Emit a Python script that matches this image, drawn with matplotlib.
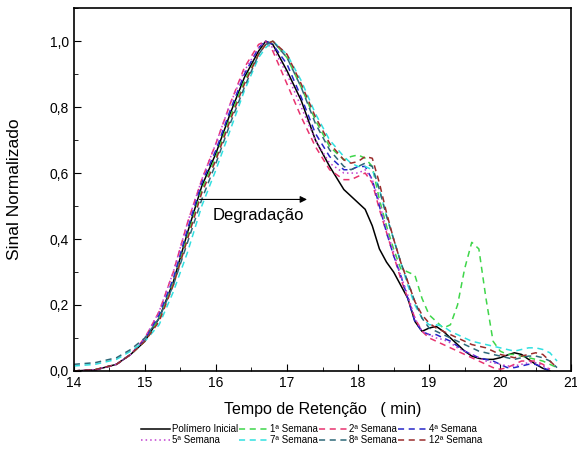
import numpy as np
import matplotlib
matplotlib.use('Agg')
import matplotlib.pyplot as plt
from matplotlib.ticker import MultipleLocator, FuncFormatter

plt.rcParams['font.family'] = ['Liberation Sans', 'DejaVu Sans']

tempo = [14.0, 14.3, 14.6, 14.8, 15.0, 15.2, 15.4, 15.6, 15.8, 16.0,
         16.2, 16.4, 16.6, 16.7, 16.8, 17.0, 17.2, 17.4, 17.6, 17.8,
         17.9, 18.0, 18.1, 18.2, 18.3, 18.4, 18.5, 18.6, 18.7, 18.8,
         18.9, 19.0, 19.1, 19.2, 19.3, 19.4, 19.5, 19.6, 19.7, 19.8,
         19.9, 20.0, 20.1, 20.2, 20.3, 20.4, 20.5, 20.6, 20.7, 20.8]

inicial = [0.0, 0.003, 0.02, 0.05, 0.09, 0.16, 0.27, 0.42, 0.56, 0.66,
           0.78, 0.89, 0.97, 1.0, 0.99, 0.91, 0.82, 0.70, 0.62, 0.55,
           0.53, 0.51, 0.49, 0.44, 0.37, 0.33, 0.30, 0.26, 0.22, 0.15,
           0.12, 0.13, 0.135, 0.12, 0.10, 0.08, 0.06, 0.045, 0.038, 0.035,
           0.035, 0.04, 0.048, 0.055, 0.05, 0.035, 0.02, 0.008, 0.0, np.nan]

sem1 = [0.0, 0.004, 0.02, 0.05, 0.09, 0.16, 0.27, 0.41, 0.55, 0.65,
        0.77, 0.88, 0.96, 0.99, 1.0, 0.95, 0.86, 0.76, 0.68, 0.64,
        0.65, 0.655, 0.645, 0.62, 0.52, 0.44, 0.37, 0.31, 0.30, 0.29,
        0.22, 0.17, 0.15, 0.13, 0.14, 0.20, 0.31, 0.39, 0.37, 0.22,
        0.09, 0.06, 0.05, 0.05, 0.045, 0.04, 0.035, 0.03, 0.02, 0.01]

sem2 = [0.0, 0.003, 0.02, 0.05, 0.10, 0.18, 0.30, 0.45, 0.58, 0.69,
        0.81, 0.92, 0.99, 1.0, 0.97, 0.87, 0.77, 0.68, 0.61, 0.58,
        0.58, 0.59, 0.60, 0.57, 0.49, 0.42, 0.35, 0.28, 0.22, 0.16,
        0.12, 0.10, 0.09, 0.08, 0.07, 0.06, 0.05, 0.04, 0.03, 0.02,
        0.01, 0.005, 0.01, 0.02, 0.03, 0.03, 0.03, 0.02, 0.005, np.nan]

sem4 = [0.0, 0.003, 0.02, 0.05, 0.095, 0.17, 0.28, 0.43, 0.57, 0.67,
        0.79, 0.90, 0.98, 1.0, 0.99, 0.93, 0.83, 0.72, 0.65, 0.61,
        0.61, 0.62, 0.62, 0.58, 0.50, 0.42, 0.35, 0.29, 0.22, 0.15,
        0.12, 0.11, 0.11, 0.10, 0.09, 0.075, 0.06, 0.05, 0.04, 0.035,
        0.03, 0.02, 0.01, 0.01, 0.015, 0.02, 0.02, 0.01, 0.0, np.nan]

sem5 = [0.0, 0.004, 0.02, 0.05, 0.10, 0.18, 0.30, 0.45, 0.58, 0.69,
        0.81, 0.91, 0.98, 1.0, 0.98, 0.90, 0.80, 0.70, 0.63, 0.60,
        0.60, 0.60, 0.61, 0.58, 0.51, 0.43, 0.36, 0.29, 0.23, 0.16,
        0.12, 0.11, 0.10, 0.095, 0.085, 0.07, 0.06, 0.05, 0.04, 0.03,
        0.025, 0.02, 0.015, 0.015, 0.02, 0.025, 0.025, 0.015, 0.005, np.nan]

sem7 = [0.015, 0.02, 0.035, 0.06, 0.09, 0.14, 0.24, 0.36, 0.50, 0.61,
        0.73, 0.85, 0.95, 0.98, 1.0, 0.96, 0.88, 0.78, 0.70, 0.65,
        0.63, 0.62, 0.62, 0.61, 0.55, 0.47, 0.40, 0.33, 0.26, 0.20,
        0.16, 0.14, 0.14, 0.135, 0.12, 0.11, 0.10, 0.09, 0.085, 0.08,
        0.075, 0.07, 0.065, 0.06, 0.065, 0.07, 0.07, 0.065, 0.055, 0.03]

sem8 = [0.02, 0.025, 0.04, 0.065, 0.10, 0.16, 0.26, 0.39, 0.52, 0.63,
        0.75, 0.86, 0.96, 0.99, 1.0, 0.95, 0.86, 0.75, 0.67, 0.62,
        0.61, 0.62, 0.63, 0.62, 0.55, 0.47, 0.40, 0.33, 0.27, 0.21,
        0.16, 0.13, 0.12, 0.11, 0.10, 0.09, 0.08, 0.07, 0.06, 0.055,
        0.05, 0.045, 0.04, 0.035, 0.04, 0.045, 0.045, 0.04, 0.03, 0.01]

sem12 = [0.0, 0.004, 0.02, 0.05, 0.09, 0.15, 0.26, 0.40, 0.54, 0.64,
         0.76, 0.87, 0.96, 0.99, 1.0, 0.96, 0.87, 0.77, 0.69, 0.64,
         0.63, 0.635, 0.65, 0.645, 0.57, 0.48, 0.40, 0.33, 0.27, 0.21,
         0.17, 0.145, 0.13, 0.12, 0.11, 0.10, 0.09, 0.08, 0.075, 0.07,
         0.06, 0.05, 0.045, 0.04, 0.045, 0.05, 0.055, 0.05, 0.03, 0.01]

series = [
    ('Polímero Inicial', inicial, 'black', '-'),
    ('1ª Semana', sem1, '#3fd64a', (0, (4, 3))),
    ('2ª Semana', sem2, '#e8336f', (0, (4, 3))),
    ('4ª Semana', sem4, '#2727c8', (0, (4, 3))),
    ('5ª Semana', sem5, '#c040d0', (0, (1, 2))),
    ('7ª Semana', sem7, '#30e0e0', (0, (4, 3))),
    ('8ª Semana', sem8, '#2e6878', (0, (4, 3))),
    ('12ª Semana', sem12, '#9a2c2c', (0, (4, 3))),
]

fig = plt.figure(figsize=(5.77, 4.54), dpi=100)
ax = fig.add_axes([0.128, 0.183, 0.862, 0.799])

handles = []
for nome, vals, cor, estilo in series:
    h, = ax.plot(tempo, vals, color=cor, linestyle=estilo, linewidth=1.1, label=nome)
    handles.append(h)

ax.set_xlim(14, 21)
ax.set_ylim(0, 1.1)
ax.xaxis.set_major_locator(MultipleLocator(1))
ax.xaxis.set_minor_locator(MultipleLocator(0.5))
ax.yaxis.set_major_locator(MultipleLocator(0.2))
ax.yaxis.set_minor_locator(MultipleLocator(0.1))
ax.yaxis.set_major_formatter(FuncFormatter(lambda v, p: f'{v:.1f}'.replace('.', ',')))
ax.tick_params(which='both', direction='in', top=False, right=False, labelsize=10)
ax.tick_params(which='major', length=5)
ax.tick_params(which='minor', length=3)
for s in ax.spines.values():
    s.set_linewidth(1.2)

ax.set_xlabel('Tempo de Retenção   ( min)', fontsize=11.5, labelpad=9)
ax.set_ylabel('Sinal Normalizado', fontsize=12.5, labelpad=20)

ax.annotate('', xy=(17.32, 0.52), xytext=(15.73, 0.52),
            arrowprops=dict(arrowstyle='-|>', color='black', lw=0.8, mutation_scale=10))
ax.text(15.95, 0.47, 'Degradação', fontsize=12, va='center', ha='left')

# legenda em 2 linhas x 4 colunas (matplotlib preenche por coluna)
ordem = [0, 4, 1, 5, 2, 6, 3, 7]
fig.legend([handles[i] for i in ordem], [series[i][0] for i in ordem],
           ncol=4, loc='upper center', bbox_to_anchor=(0.54, 0.066),
           frameon=False, fontsize=7, handlelength=3.0, handletextpad=0.15,
           columnspacing=0.1, labelspacing=0.15, borderaxespad=0, borderpad=0)

fig.savefig('out.png', dpi=100)
